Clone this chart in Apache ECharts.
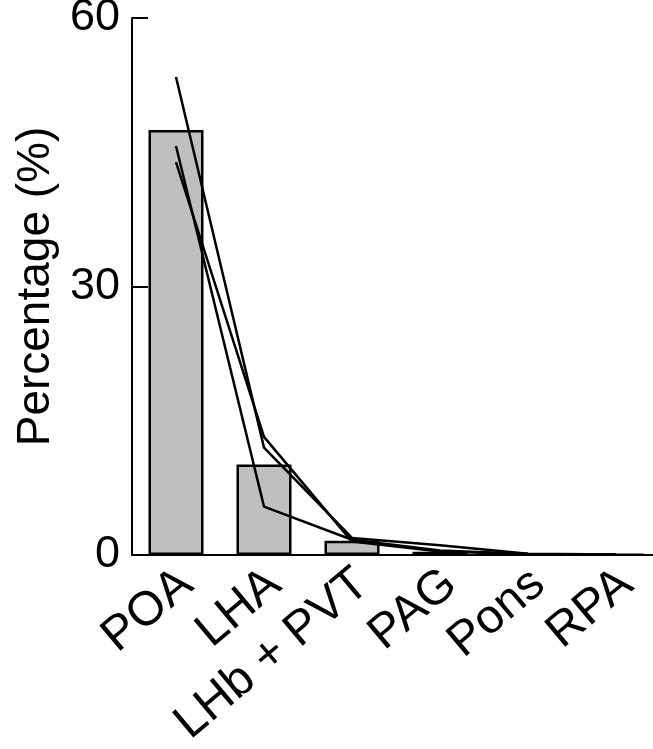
<!DOCTYPE html>
<html><head><meta charset="utf-8">
<script src="https://cdn.jsdelivr.net/npm/echarts@6/dist/echarts.min.js"></script>
<style>html,body{margin:0;padding:0;background:#fff}#c{width:653px;height:749px}</style>
</head><body><div id="c"></div>
<script>
var categories = ['POA', 'LHA', 'LHb + PVT', 'PAG', 'Pons', 'RPA'];
var meanValues = [47.5, 10.1, 1.6, 0.35, 0.1, 0.05];
var subjectA = [53.4, 12.0, 1.9, 1.1, 0.15, 0.05];
var subjectB = [45.7, 5.4, 1.7, 0.5, 0.1, 0.05];
var subjectC = [43.9, 13.2, 1.5, 0.4, 0.1, 0.05];
var yTicks = [0, 30, 60];

var chart = echarts.init(document.getElementById('c'));
var font = 'Liberation Sans, Arial, sans-serif';
function lineSeries(d){
  return {type:'line', data:d, symbol:'none', z:5,
    lineStyle:{color:'#000', width:2.5}, itemStyle:{color:'#000'}};
}
chart.setOption({
  animation:false,
  grid:{left:132, top:18, width:528, height:537, containLabel:false, outerBoundsMode:'none'},
  xAxis:{type:'category', data:categories,
    axisLine:{lineStyle:{color:'#000', width:2}},
    axisTick:{show:false},
    axisLabel:{interval:0, hideOverlap:false, rotate:40, fontSize:48, color:'#000', fontFamily:font, margin:32,
      padding:[0,-14,0,0]}},
  yAxis:{type:'value', min:0, max:60, interval:30,
    name:'Percentage (%)', nameLocation:'middle', nameGap:71, nameRotate:90,
    nameTextStyle:{fontSize:46, color:'#000', fontFamily:font},
    splitLine:{show:false},
    axisLine:{show:true, lineStyle:{color:'#000', width:2}},
    axisTick:{show:true, inside:true, length:16, lineStyle:{color:'#000', width:2}},
    axisLabel:{fontSize:45, color:'#000', fontFamily:font, margin:12,
      formatter:function(v){return yTicks.indexOf(v)>=0? String(v):'';}}},
  series:[
    {type:'bar', data:meanValues, barWidth:55, z:2,
      itemStyle:{color:'#bfbfbf', borderColor:'#000', borderWidth:2.5}},
    lineSeries(subjectA), lineSeries(subjectB), lineSeries(subjectC)
  ]
});
</script></body></html>
